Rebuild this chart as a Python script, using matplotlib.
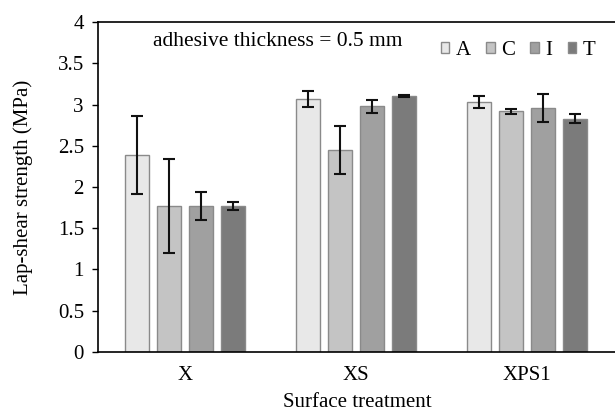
import matplotlib
matplotlib.use("Agg")
import matplotlib.pyplot as plt
import numpy as np

plt.rcParams['font.family'] = ['Liberation Serif', 'DejaVu Serif']

groups = ["X", "XS", "XPS1"]
series = ["A", "C", "I", "T"]
values = {
    "A": [2.39, 3.07, 3.03],
    "C": [1.77, 2.45, 2.92],
    "I": [1.77, 2.98, 2.96],
    "T": [1.77, 3.10, 2.83],
}
errors = {
    "A": [0.47, 0.095, 0.075],
    "C": [0.57, 0.29, 0.03],
    "I": [0.17, 0.08, 0.17],
    "T": [0.05, 0.01, 0.05],
}
colors = {"A": "#e8e8e8", "C": "#c4c4c4", "I": "#a0a0a0", "T": "#7b7b7b"}

fig = plt.figure(figsize=(6.15, 4.16), dpi=100)
ax = fig.add_axes([0.159, 0.154, 0.843, 0.793])

x = np.arange(len(groups))
w = 0.143
pitch = 0.187
for i, s in enumerate(series):
    off = (i - 1.5) * pitch
    ax.bar(x + off, values[s], w, color=colors[s], edgecolor="#8a8a8a",
           linewidth=1.0, label=s, zorder=2)
    ax.errorbar(x + off, values[s], yerr=errors[s], fmt='none', ecolor='#111111',
                elinewidth=1.5, capsize=4, capthick=1.5, zorder=3)

ax.set_xlim(-0.51, 2.52)
ax.set_ylim(0, 4)
ax.set_yticks(np.arange(0, 4.01, 0.5))
ax.set_yticklabels(["0", "0.5", "1", "1.5", "2", "2.5", "3", "3.5", "4"])
ax.set_xticks(x)
ax.set_xticklabels(groups)
ax.tick_params(axis='x', length=0, labelsize=15, pad=10)
ax.tick_params(axis='y', length=4, width=1, labelsize=15, pad=6, direction='out')
ax.spines['right'].set_visible(False)
for sp in ['left', 'bottom', 'top']:
    ax.spines[sp].set_linewidth(1.2)
    ax.spines[sp].set_color('black')

ax.set_xlabel("Surface treatment", fontsize=15, labelpad=6)
ax.set_ylabel("Lap-shear strength (MPa)", fontsize=15, labelpad=18)

ax.text(0.106, 0.94, "adhesive thickness = 0.5 mm", transform=ax.transAxes,
        fontsize=15.5, va='center', ha='left')

leg = ax.legend(loc='upper right', ncol=4, frameon=False, fontsize=15,
                handlelength=0.4, handleheight=0.4, handletextpad=0.3,
                columnspacing=0.75, bbox_to_anchor=(0.995, 1.0))

fig.savefig("out.png", dpi=100)
